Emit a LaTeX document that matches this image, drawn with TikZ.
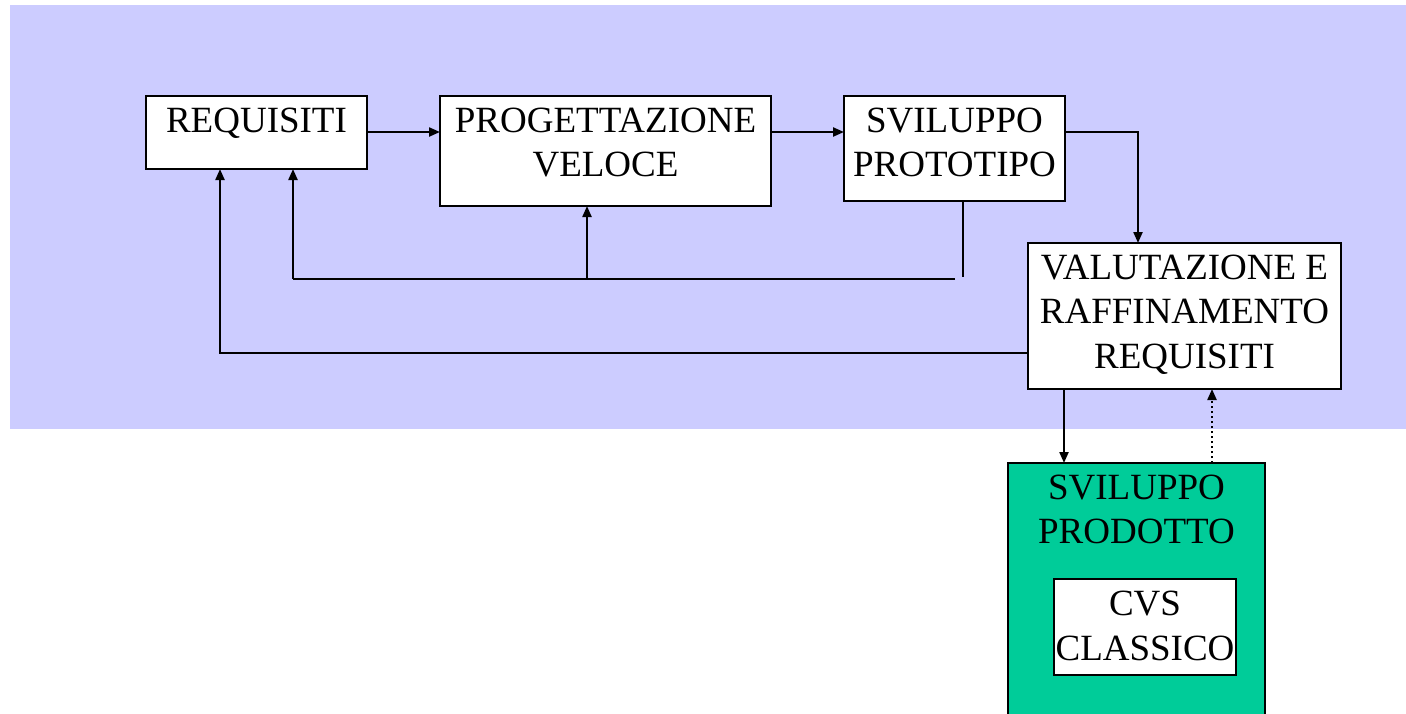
\documentclass[tikz,border=0pt]{standalone}
\usepackage{fontspec}
\setmainfont{Liberation Serif}
\usetikzlibrary{arrows.meta,calc}
\definecolor{lav}{HTML}{CCCCFF}
\definecolor{grn}{HTML}{00CC99}
\tikzset{
  box/.style={draw=black, line width=2pt, fill=white, inner sep=0pt, outer sep=0pt},
  txt/.style={inner sep=0pt, outer sep=0pt, anchor=base, font=\fontsize{37}{44}\selectfont},
  conn/.style={line width=2.2pt, draw=black},
  arr/.style={conn, -{Triangle[length=11pt,width=9pt]}},
}
\begin{document}
\begin{tikzpicture}[x=1pt,y=-1pt]
\useasboundingbox (0,0) rectangle (1406,713);
\fill[white] (0,0) rectangle (1406,713);
\fill[lav] (10,5) rectangle (1406,429);
% boxes
\node[box, minimum width=221pt, minimum height=73pt] (req) at (256.5,132.5) {};
\node[box, minimum width=331pt, minimum height=110pt] (prog) at (605.5,151) {};
\node[box, minimum width=221pt, minimum height=105pt] (sv) at (954.5,148.5) {};
\node[box, minimum width=313pt, minimum height=146pt] (val) at (1184.5,316) {};
\node[box, fill=grn, minimum width=257pt, minimum height=262pt] (prod) at (1136.5,594) {};
\node[box, minimum width=182pt, minimum height=96pt] (cvs) at (1145,627) {};
% texts
\node[txt] (reqT) at (256.5,132) {REQUISITI};
\node[txt] (progT1) at (605.5,132) {PROGETTAZIONE};
\node[txt] (progT2) at (605.5,176) {VELOCE};
\node[txt] (svT1) at (954.5,132) {SVILUPPO};
\node[txt] (svT2) at (954.5,176) {PROTOTIPO};
\node[txt] (valT1) at (1184.5,279) {VALUTAZIONE E};
\node[txt] (valT2) at (1184.5,323) {RAFFINAMENTO};
\node[txt] (valT3) at (1184.5,368) {REQUISITI};
\node[txt] (prodT1) at (1136.5,499) {SVILUPPO};
\node[txt] (prodT2) at (1136.5,543) {PRODOTTO};
\node[txt] (cvsT1) at (1145,615) {CVS};
\node[txt] (cvsT2) at (1145,660) {CLASSICO};
% coordinates
\coordinate (fbL) at (293,279);
\coordinate (fbM) at (587,279);
\coordinate (fbR) at (955,279);
\coordinate (svB) at (963,201);
\coordinate (svBend) at (963,277);
\coordinate (lp) at (220,353);
\coordinate (vdn) at (1064,389);
\coordinate (vup) at (1212,463);
% connectors
\draw[arr] ($(req.north east)+(0,36)$) -- ($(prog.north west)+(0,36)$);
\draw[arr] ($(prog.north east)+(0,36)$) -- ($(sv.north west)+(0,36)$);
\draw[arr] ($(sv.north east)+(0,36)$) -| ($(val.north west)+(110,0)$);
\draw[conn] (svB) -- (svBend);
\draw[conn] (fbR) -- (fbL);
\draw[arr] (fbL) -- (fbL |- req.south);
\draw[arr] (fbM) -- (fbM |- prog.south);
\draw[arr] (val.west |- lp) -- (lp) -- (lp |- req.south);
\draw[arr] (vdn) -- (vdn |- prod.north);
\draw[arr, dash pattern=on 2.5pt off 2.5pt] (vup) -- (vup |- val.south);
\end{tikzpicture}
\end{document}
